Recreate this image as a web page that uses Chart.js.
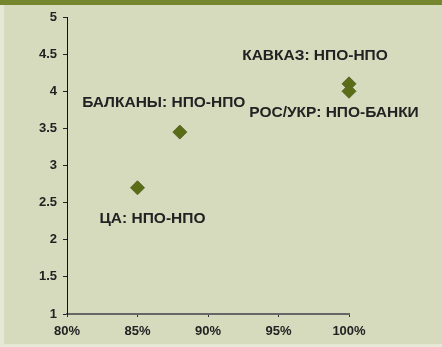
<!DOCTYPE html>
<html>
<head>
<meta charset="utf-8">
<script src="https://cdn.jsdelivr.net/npm/chart.js@4.4.1/dist/chart.umd.min.js"></script>
<style>
  html, body { margin: 0; padding: 0; background: #d6dbbe; }
  #wrap { position: relative; width: 442px; height: 347px; background: #d6dbbe; }
  #band { position: absolute; left: 0; top: 0; width: 442px; height: 5px; background: #76862f; }
  #edgeL { position: absolute; left: 0; top: 5px; width: 4px; height: 342px; background: #e4e8d5; }
  #edgeB { position: absolute; left: 0; bottom: 0; width: 442px; height: 3px; background: #e4e8d5; }
  canvas { position: absolute; left: 0; top: 0; }
</style>
</head>
<body>
<div id="wrap">
  <div id="edgeL"></div>
  <div id="edgeB"></div>
  <div id="band"></div>
  <canvas id="chart" width="442" height="347"></canvas>
</div>
<script>
// Доля (%) и оценка для каждой пары регионов
const regions = ['ЦА: НПО-НПО', 'БАЛКАНЫ: НПО-НПО', 'КАВКАЗ: НПО-НПО', 'РОС/УКР: НПО-БАНКИ'];
const shareValues = [85, 88, 100, 100];
const scoreValues = [2.7, 3.45, 4.1, 4.0];
const xTicks = [80, 85, 90, 95, 100];
const yTicks = [1, 1.5, 2, 2.5, 3, 3.5, 4, 4.5, 5];

const points = regions.map((r, i) => ({ x: shareValues[i], y: scoreValues[i], label: r }));

// смещения подписей относительно точки (px)
const labelOffsets = [[15, 31], [-16, -29], [-34, -28], [-15, 21]];

const pointLabels = {
    id: 'pointLabels',
    afterDatasetsDraw(chart) {
        const ctx = chart.ctx;
        const meta = chart.getDatasetMeta(0);
        ctx.save();
        ctx.font = 'bold 15.5px "Liberation Sans", Arial, sans-serif';
        ctx.fillStyle = '#222222';
        ctx.textAlign = 'center';
        ctx.textBaseline = 'middle';
        meta.data.forEach((el, i) => {
            const off = labelOffsets[i];
            ctx.fillText(regions[i], el.x + off[0], el.y + off[1]);
        });
        ctx.restore();
    }
};

const tickFont = { family: '"Liberation Sans", Arial, sans-serif', size: 13, weight: 'bold' };

new Chart(document.getElementById('chart'), {
    type: 'scatter',
    data: {
        datasets: [{
            data: points,
            pointStyle: 'rectRot',
            pointRadius: 7,
            pointHoverRadius: 7,
            backgroundColor: '#5a6d14',
            borderColor: '#57662a',
            borderWidth: 1,
            clip: false
        }]
    },
    options: {
        responsive: false,
        animation: false,
        layout: { padding: { left: 0, top: 17, right: 93, bottom: 0 } },
        plugins: { legend: { display: false }, tooltip: { enabled: false } },
        scales: {
            x: {
                type: 'linear',
                min: 80,
                max: 100,
                afterBuildTicks: (s) => { s.ticks = xTicks.map(v => ({ value: v })); },
                afterFit: (s) => { s.height = 33; },
                grid: { display: true, drawOnChartArea: false, tickLength: 3, color: '#333333', tickWidth: 1 },
                border: { display: true, color: '#666666', width: 2 },
                ticks: { color: '#222222', font: tickFont, padding: 7, callback: v => v + '%', maxRotation: 0 }
            },
            y: {
                type: 'linear',
                min: 1,
                max: 5,
                afterBuildTicks: (s) => { s.ticks = yTicks.map(v => ({ value: v })); },
                afterFit: (s) => { s.width = 67; },
                grid: { display: true, drawOnChartArea: false, tickLength: 4, color: '#222222' },
                border: { display: true, color: '#111111', width: 1 },
                ticks: { color: '#222222', font: tickFont, padding: 6, callback: v => String(v) }
            }
        }
    },
    plugins: [pointLabels]
});
</script>
</body>
</html>
